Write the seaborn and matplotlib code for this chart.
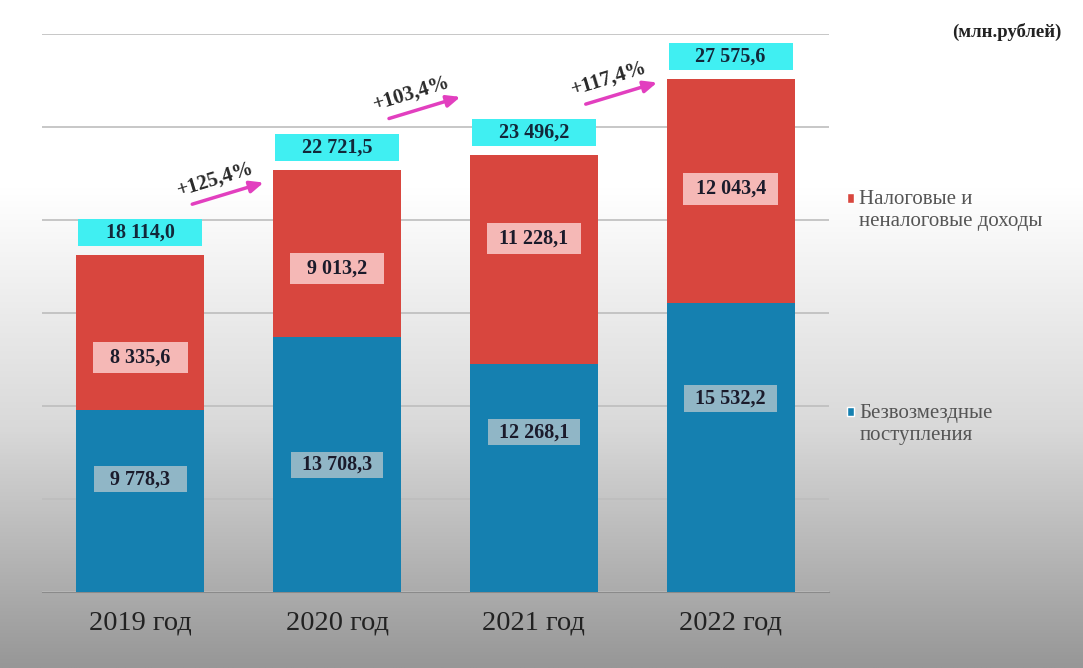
import numpy as np
import pandas as pd
import seaborn as sns
import matplotlib.pyplot as plt
from matplotlib.patches import Patch, Rectangle
from matplotlib.colors import LinearSegmentedColormap

years = ["2019 год", "2020 год", "2021 год", "2022 год"]
bezvozm = [9778.3, 13708.3, 12268.1, 15532.2]
nalog = [8335.6, 9013.2, 11228.1, 12043.4]
totals = [18114.0, 22721.5, 23496.2, 27575.6]
growth = ["+125,4%", "+103,4%", "+117,4%"]

# where the inner labels sit inside each segment (fraction from segment bottom)
bez_lab_pos = [0.62, 0.5, 0.7, 0.67]
nal_lab_pos = [0.34, 0.41, 0.6, 0.51]

df = pd.DataFrame({"year": years, "bez": bezvozm, "nal": nalog})
df["sum"] = df["bez"] + df["nal"]

sns.set_style("white")
plt.rcParams["font.family"] = ["Liberation Serif", "DejaVu Serif"]

RED = "#d8463e"
BLUE = "#1580b0"

fig = plt.figure(figsize=(10.83, 6.68), dpi=100)

# background gradient white -> gray
bg = fig.add_axes([0, 0, 1, 1], zorder=-5)
yy = np.linspace(0, 1, 300)[:, None]
t = np.clip((yy - 0.28) / 0.72, 0, 1)
grad = np.repeat(t, 10, axis=1)
cmap = LinearSegmentedColormap.from_list("bg", ["#ffffff", "#d9d9d9", "#979797"])
bg.imshow(grad, cmap=cmap, aspect="auto", extent=[0, 1, 0, 1], origin="upper", vmin=0, vmax=1)
bg.axis("off")

ax = fig.add_axes([0.0388, 0.1138, 0.7267, 0.835])
ax.patch.set_alpha(0)

sns.barplot(data=df, x="year", y="sum", color=RED, width=0.65, saturation=1, ax=ax,
            zorder=3, linewidth=0, edgecolor="none")
sns.barplot(data=df, x="year", y="bez", color=BLUE, width=0.65, saturation=1, ax=ax,
            zorder=3, linewidth=0, edgecolor="none")

ax.set_ylim(0, 30000)
ax.set_xlim(-0.5, 3.5)
ax.set_yticks(range(0, 30001, 5000))
ax.set_yticklabels([])
ax.tick_params(axis="y", length=0)
ax.grid(axis="y", color="#bdbdbd", lw=1.2, zorder=0)
ax.set_xlabel("")
ax.set_ylabel("")
for s in ["left", "right", "top"]:
    ax.spines[s].set_visible(False)
ax.spines["bottom"].set_color("#8a8a8a")
ax.set_xticks(np.arange(-0.5, 4, 1), minor=True)
ax.tick_params(axis="x", which="minor", length=9, color="#8a8a8a", width=1)
ax.tick_params(axis="x", which="major", length=0, labelsize=20.5, pad=13, labelcolor="#222222")

def box(x, y, w, h, fc, txt, color="#1b1b2b"):
    ax.add_patch(Rectangle((x - w / 2, y - h / 2), w, h, facecolor=fc, edgecolor="none", zorder=4))
    ax.text(x, y, txt, ha="center", va="center", fontsize=14.5, fontweight="bold", color=color, zorder=5)

def fmt(v):
    return f"{v:,.1f}".replace(",", " ").replace(".", ",")

for i in range(len(years)):
    box(i, totals[i] + 1200, 0.63, 1450, "#40eff2", fmt(totals[i]), "#12283a")
    box(i, bezvozm[i] + nalog[i] * nal_lab_pos[i], 0.48, 1700, "#f5b8b6", fmt(nalog[i]))
    box(i, bezvozm[i] * bez_lab_pos[i], 0.47, 1400, "#90b6c6", fmt(bezvozm[i]))

for i, g in enumerate(growth):
    ax.annotate("", xy=(i + 0.64, totals[i] + 3950), xytext=(i + 0.25, totals[i] + 2700),
                arrowprops=dict(arrowstyle="-|>,head_length=0.8,head_width=0.35", color="#e23fbf", lw=2.5),
                zorder=6)
    ax.text(i + 0.38, totals[i] + 4100, g, ha="center", va="center", fontsize=15,
            fontweight="bold", rotation=17, color="#2a2a2a", zorder=6)

handles = [Patch(facecolor=RED, label="Налоговые и\nненалоговые доходы"),
           Patch(facecolor=BLUE, label="Безвозмездные\nпоступления")]
leg = fig.legend(handles=handles, loc="upper left", bbox_to_anchor=(0.7646, 0.743), frameon=False,
                 fontsize=15, handlelength=0.35, handleheight=0.35, handletextpad=0.25,
                 labelspacing=8.3)
for txt in leg.get_texts():
    txt.set_color("#555555")
# put the square marker next to the first line of each label
for h in leg.legend_handles:
    h.set_y(h.get_y() + 9)

fig.text(0.98, 0.952, "(млн.рублей)", ha="right", va="center", fontsize=13.5, fontweight="bold", color="#222222")

fig.savefig("out.png", dpi=100)
